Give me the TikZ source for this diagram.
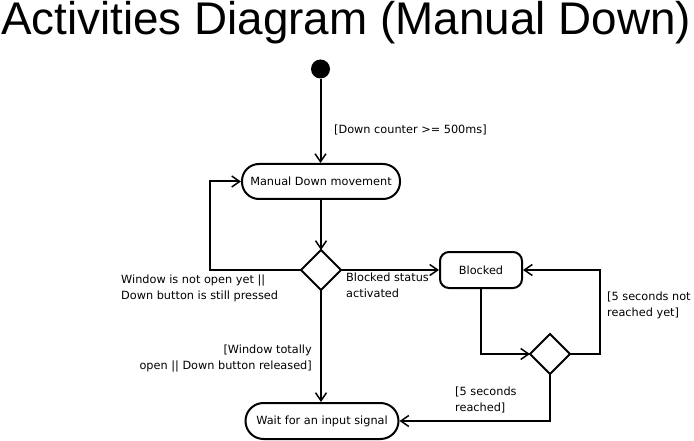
\documentclass[tikz,border=0pt]{standalone}
\usepackage{fontspec}
\setmainfont{DejaVu Sans}
\newfontfamily\titlefont{Liberation Sans}
\usetikzlibrary{arrows.meta,shapes.geometric}
\begin{document}
\begin{tikzpicture}[x=1pt,y=-1pt,
  every node/.style={font=\fontsize{11.3}{16}\selectfont},
  act/.style={draw,line width=2pt,rounded corners=17pt,minimum height=35pt,inner sep=0pt},
  dec/.style={draw,diamond,line width=2pt,minimum width=40pt,minimum height=40pt,inner sep=0pt,outer sep=0pt},
  lbl/.style={inner sep=0pt},
  arr/.style={line width=2pt,-{Straight Barb[length=8pt,width=11pt,line width=1.5pt]}}
]
\useasboundingbox (0,0) rectangle (694,441);
\node[lbl,anchor=base west,font=\titlefont\fontsize{45.8}{50}\selectfont] (title) at (1,34.5) {Activities Diagram (Manual Down)};
\node[circle,fill=black,inner sep=0pt,minimum size=19pt] (start) at (320.5,69) {};
\node[act,minimum width=158pt] (manual) at (321,181.5) {Manual Down movement};
\node[dec] (d1) at (321,270) {};
\node[act,minimum width=82pt,minimum height=36pt,rounded corners=9pt] (blocked) at (481,270) {Blocked};
\node[dec] (d2) at (550,354) {};
\node[act,minimum width=153pt,minimum height=36pt,rounded corners=18pt] (wait) at (322,421) {Wait for an input signal};
\coordinate (loopL) at (210,270);
\coordinate (loopR) at (600,354);

\draw[arr] (start) -- (start |- manual.north);
\draw[arr] (manual) -- (d1);
\draw[arr] (d1.west) -- (loopL) |- (manual.west);
\draw[arr] (d1.east) -- (blocked.west);
\draw[arr] (blocked.south) |- (d2.west);
\draw[arr] (d2.east) -- (loopR) |- (blocked.east);
\draw[arr] (d2.south) |- (wait.east);
\draw[arr] (d1.south) -- (d1.south |- wait.north);

\node[lbl,anchor=west] (l1) at (334,130) {[Down counter >= 500ms]};
\node[lbl,anchor=west,align=left] (l2) at (121,288) {Window is not open yet ||\\Down button is still pressed};
\node[lbl,anchor=west,align=left] (l3) at (346,285) {Blocked status\\activated};
\node[lbl,anchor=east,align=right] (l4) at (312,359) {[Window totally\\open || Down button released]};
\node[lbl,anchor=west,align=left] (l5) at (455,400) {[5 seconds\\reached]};
\node[lbl,anchor=west,align=left] (l6) at (607,305) {[5 seconds not\\reached yet]};
\end{tikzpicture}
\end{document}
